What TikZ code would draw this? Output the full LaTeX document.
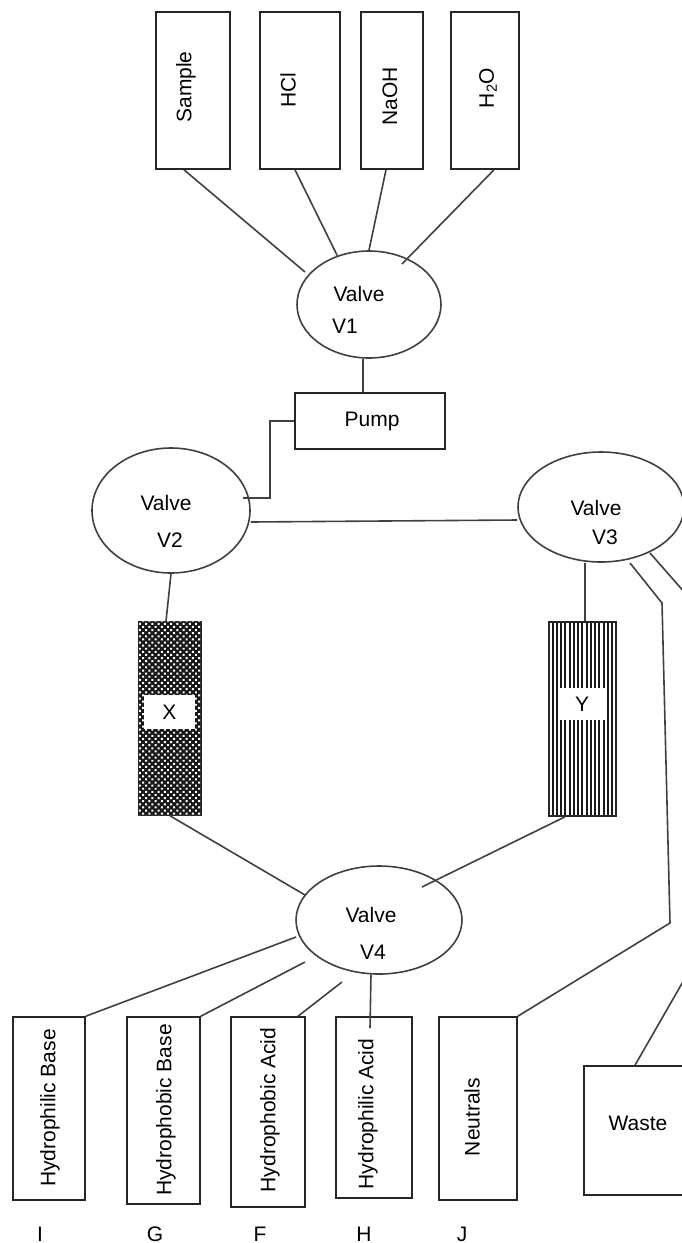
\documentclass[tikz,border=0pt]{standalone}
\usepackage{fontspec}
\setmainfont{Liberation Sans}
\usetikzlibrary{patterns.meta}
\tikzset{
	wire/.style={draw=black!75, line width=1.6pt},
	vessel/.style={draw=black!85, line width=1.6pt, fill=white, rectangle, inner sep=0pt},
	valve/.style={draw=black!75, line width=1.6pt, fill=white, ellipse, inner sep=0pt},
	txt/.style={inner sep=0pt, font=\fontsize{21}{24}\selectfont},
	window/.style={fill=white, inner sep=0pt, font=\fontsize{21}{24}\selectfont}
}
\usetikzlibrary{shapes.geometric}

\begin{document}
\begin{tikzpicture}[x=1pt, y=-1pt]
	\useasboundingbox (0,0) rectangle (681,1243);
	% reservoirs
	\node[vessel, minimum width=74pt, minimum height=157pt] (sample) at (193,90.5) {};
	\node[vessel, minimum width=80pt, minimum height=157pt] (hcl) at (300,90.5) {};
	\node[vessel, minimum width=62pt, minimum height=157pt] (naoh) at (392,90.5) {};
	\node[vessel, minimum width=68pt, minimum height=157pt] (water) at (485,90.5) {};
	\node[txt, rotate=90] (sampletxt) at (186,87) {Sample};
	\node[txt, rotate=90] (hcltxt) at (288,90) {HCl};
	\node[txt, rotate=90] (naohtxt) at (390,96) {NaOH};
	\node[txt, rotate=90] (watertxt) at (488,88) {H\textsubscript{2}O};
	% valves and pump
	\node[valve, minimum width=144pt, minimum height=107pt] (v1) at (369,304.5) {};
	\node[vessel, minimum width=150pt, minimum height=56pt] (pump) at (370,421) {};
	\node[valve, minimum width=158pt, minimum height=125pt] (v2) at (171,510.5) {};
	\node[valve, minimum width=166pt, minimum height=110pt] (v3) at (601,507) {};
	\node[valve, minimum width=166pt, minimum height=108pt] (v4) at (379,920) {};
	\node[txt] (v1a) at (359,294) {Valve};
	\node[txt] (v1b) at (345,326) {V1};
	\node[txt] (pumptxt) at (372,421) {Pump};
	\node[txt] (v2a) at (166,503) {Valve};
	\node[txt] (v2b) at (170,540) {V2};
	\node[txt] (v3a) at (596,508) {Valve};
	\node[txt] (v3b) at (605,537) {V3};
	\node[txt] (v4a) at (371,915) {Valve};
	\node[txt] (v4b) at (373,952) {V4};
	% columns
	\node[vessel, minimum width=62pt, minimum height=193pt, fill=black!90] (colx) at (170,718.5) {};
	\fill[pattern={Dots[distance=4.4pt, radius=1.4pt, angle=45]}, pattern color=white]
		([xshift=1pt,yshift=-1pt]colx.south west) rectangle ([xshift=-1pt,yshift=1pt]colx.north east);
	\node[vessel, minimum width=67pt, minimum height=194pt] (coly) at (582.5,719) {};
	\foreach \i in {0,...,14}
		\draw[line width=2pt, black!90] (552.5+4.25*\i,622) -- (552.5+4.25*\i,816);
	\node[vessel, fill=none, minimum width=67pt, minimum height=194pt] (colyb) at (582.5,719) {};
	\node[window, minimum width=51pt, minimum height=34pt] (xtxt) at (169.5,712) {X};
	\node[window, minimum width=46pt, minimum height=32pt] (ytxt) at (582,704) {Y};
	% fractions
	\node[vessel, minimum width=72pt, minimum height=183pt] (fi) at (49,1108.5) {};
	\node[vessel, minimum width=73pt, minimum height=187pt] (fg) at (163.5,1110.5) {};
	\node[vessel, minimum width=74pt, minimum height=190pt] (ff) at (268,1112) {};
	\node[vessel, minimum width=76pt, minimum height=181pt] (fh) at (374,1107.5) {};
	\node[vessel, minimum width=78pt, minimum height=183pt] (fj) at (478,1108.5) {};
	\node[vessel, minimum width=108pt, minimum height=129pt] (waste) at (638,1130.5) {};
	\node[txt, rotate=90] (fitxt) at (50,1108) {Hydrophilic Base};
	\node[txt, rotate=90] (fgtxt) at (166,1110) {Hydrophobic Base};
	\node[txt, rotate=90] (fftxt) at (270,1110) {Hydrophobic Acid};
	\node[txt, rotate=90] (fhtxt) at (368,1114) {Hydrophilic Acid};
	\node[txt, rotate=90] (fjtxt) at (472,1117) {Neutrals};
	\node[txt] (wastetxt) at (638,1123) {Waste};
	\node[txt] (li) at (40,1234) {I};
	\node[txt] (lg) at (155,1234) {G};
	\node[txt] (lf) at (260,1234) {F};
	\node[txt] (lh) at (364,1234) {H};
	\node[txt] (lj) at (462,1234) {J};
	% free ends and bends
	\coordinate (samplein) at (305,272);
	\coordinate (v1in) at (402,264);
	\coordinate (v2in) at (243,498);
	\coordinate (bendp) at (270,421);
	\coordinate (bendq) at (270,498);
	\coordinate (v3n) at (630,563);
	\coordinate (bendn) at (662,603);
	\coordinate (bendm) at (670,923);
	\coordinate (v3w) at (650,553);
	\coordinate (bendw) at (700,610);
	\coordinate (wastew) at (700,952);
	\coordinate (xin) at (305,895);
	\coordinate (yin) at (422,887);
	\coordinate (iin) at (296,937);
	\coordinate (gin) at (305,962);
	\coordinate (fin) at (342,982);
	\coordinate (hin) at (370,1028);
	\path[wire]
	([xshift=-9pt]sample.south) edge (samplein)
	([xshift=-5pt]hcl.south) edge (v1.123)
	([xshift=-6pt]naoh.south) edge (v1.90)
	([xshift=9pt]water.south) edge (v1in)
	([xshift=-6pt]v1.south) edge ([xshift=-7pt]pump.north)
	(v2.east |- 0,522) edge (v3.west |- 0,520)
	(v2.south) edge ([xshift=-4pt]colx.north)
	([xshift=2.5pt]coly.north) edge ([xshift=-16pt]v3.south)
	(colx.south) edge (xin)
	([xshift=-17.5pt]coly.south) edge (yin)
	(iin) edge (fi.north east)
	(gin) edge (fg.north east)
	(fin) edge ([xshift=30pt]ff.north)
	([xshift=-8pt]v4.south) edge (hin);
	\draw[wire] (pump.west) -- (bendp) -- (bendq) -- (v2in);
	\draw[wire] (v3n) -- (bendn) -- (bendm) -- (fj.north east);
	\draw[wire] (v3w) -- (bendw);
	\draw[wire] ([xshift=-3pt]waste.north) -- (wastew);
\end{tikzpicture}
\end{document}
